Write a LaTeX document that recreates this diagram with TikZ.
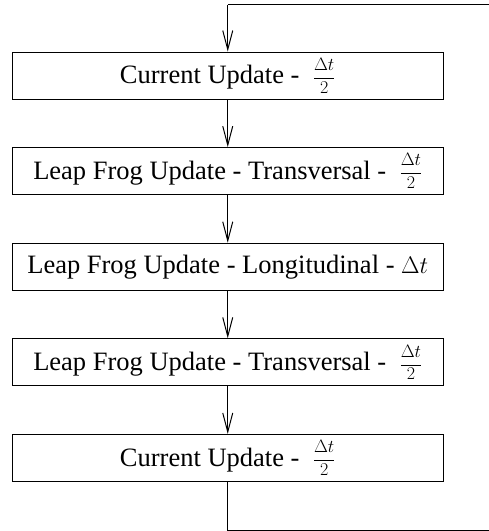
\RequirePackage{fix-cm}
\documentclass[tikz,border=0pt]{standalone}
\usepackage{fontspec}
\setmainfont{Liberation Serif}
% math set a little smaller than the surrounding text, with large scripts
\DeclareMathSizes{26.5}{24}{18}{12}
\usetikzlibrary{arrows.meta}
% half time step, with numerator and denominator spread apart
\newcommand{\halfdt}{$\;\frac{\Delta t\rule[-7pt]{0pt}{0pt}}{\rule{0pt}{14.5pt}2}$}
\begin{document}
\begin{tikzpicture}[x=1pt,y=-1pt,
  stepbox/.style={draw,line width=1pt,minimum width=430.5pt,minimum height=47pt,
    inner sep=0pt,font=\fontsize{26.5}{31}\selectfont},
  flow/.style={line width=1pt,-{Straight Barb[length=19pt,width=10pt,line width=1pt]}},
  loopline/.style={line width=1pt}]
  \useasboundingbox (0,0) rectangle (489,531);
  \clip (0,0) rectangle (489,531);
  \node[stepbox] (s1) at (227.75,75.5)  {Current Update - \halfdt};
  \node[stepbox] (s2) at (227.75,171.1) {Leap Frog Update - Transversal - \halfdt};
  \node[stepbox] (s3) at (227.75,266.7) {Leap Frog Update - Longitudinal - $\Delta t$};
  \node[stepbox] (s4) at (227.75,362.3) {Leap Frog Update - Transversal - \halfdt};
  \node[stepbox] (s5) at (227.75,457.9) {Current Update - \halfdt};
  \draw[flow] (s1) -- (s2);
  \draw[flow] (s2) -- (s3);
  \draw[flow] (s3) -- (s4);
  \draw[flow] (s4) -- (s5);
  % feedback loop, running out past the right edge
  \coordinate (lowturn) at (227.75,530);
  \coordinate (lowright) at (500,530);
  \coordinate (topright) at (500,4.5);
  \coordinate (topturn) at (227.75,4.5);
  \draw[loopline] (s5.south) -- (lowturn) -- (lowright) -- (topright) -- (topturn);
  \draw[flow] (topturn) -- (s1.north);
\end{tikzpicture}
\end{document}
